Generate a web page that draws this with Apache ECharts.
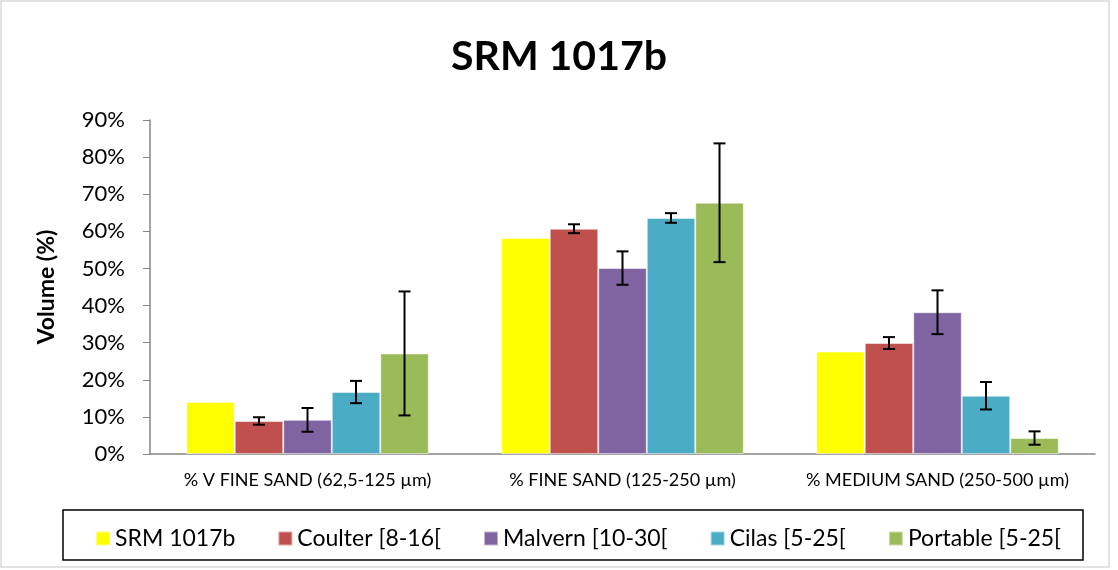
<!DOCTYPE html>
<html>
<head>
<meta charset="utf-8">
<script src="https://cdn.jsdelivr.net/npm/echarts@6/dist/echarts.min.js"></script>
<style>
  html, body { margin: 0; padding: 0; background: #fff; }
  #chart { width: 1118px; height: 570px; }
</style>
</head>
<body>
<div id="chart"></div>
<script>
// data (percent)
const categories = ['% V FINE SAND (62,5-125 µm)', '% FINE SAND (125-250 µm)', '% MEDIUM SAND (250-500 µm)']
const seriesNames = ['SRM 1017b', 'Coulter [8-16[', 'Malvern [10-30[', 'Cilas [5-25[', 'Portable [5-25[']
const srm = [14.0, 58.2, 27.6]
const coulter = [8.9, 60.7, 29.9]
const malvern = [9.2, 50.1, 38.2]
const cilas = [16.7, 63.6, 15.7]
const portable = [27.1, 67.7, 4.3]
const coulterErr = [1.0, 1.2, 1.6]
const malvernErr = [3.2, 4.5, 5.9]
const cilasErr = [3.0, 1.3, 3.7]
const portableErr = [16.7, 16.0, 1.8]
const yTicks = [0, 10, 20, 30, 40, 50, 60, 70, 80, 90]

const colors = ['#FFFF00', '#C0504D', '#8064A2', '#4BACC6', '#9BBB59']
const font = 'Lato, "Open Sans", sans-serif'
const catGap = 0.23

const values = [srm, coulter, malvern, cilas, portable]
const errs = [null, coulterErr, malvernErr, cilasErr, portableErr]

// error bar items: [category, low, high, series index]
const errData = []
errs.forEach((e, s) => {
  if (!e) return
  e.forEach((d, c) => {
    errData.push([c, values[s][c] - d, values[s][c] + d, s])
  })
})

const chart = echarts.init(document.getElementById('chart'))

const barSeries = seriesNames.map((name, i) => ({
  name,
  type: 'bar',
  data: values[i],
  barGap: '0%',
  barCategoryGap: (catGap * 100) + '%',
  itemStyle: { color: colors[i], borderColor: 'rgba(255,255,255,0.5)', borderWidth: 1 }
}))

const option = {
  animation: false,
  title: {
    text: 'SRM 1017b',
    left: 'center',
    top: 31,
    textStyle: { fontFamily: font, fontSize: 41, fontWeight: 'bold', color: '#000' }
  },
  grid: { left: 150, right: 23, top: 120, bottom: 116 },
  legend: {
    data: seriesNames,
    left: 90,
    top: 522,
    icon: 'rect',
    itemWidth: 14,
    itemHeight: 14,
    itemGap: 42,
    textStyle: { fontFamily: font, fontSize: 23, color: '#000' }
  },
  xAxis: {
    type: 'category',
    data: categories,
    axisLine: { lineStyle: { color: '#868686', width: 1.5 } },
    axisTick: { length: 6, lineStyle: { color: '#868686' } },
    axisLabel: { interval: 0, fontFamily: font, fontSize: 18, color: '#000', margin: 17 }
  },
  yAxis: {
    type: 'value',
    min: 0,
    max: 90,
    interval: 10,
    name: 'Volume (%)',
    nameLocation: 'middle',
    nameGap: 92,
    nameTextStyle: { fontFamily: font, fontSize: 23, fontWeight: 'bold', color: '#000' },
    axisLine: { show: true, lineStyle: { color: '#868686', width: 1.5 } },
    axisTick: { show: true, length: 7, lineStyle: { color: '#868686' } },
    axisLabel: {
      fontFamily: font, fontSize: 22, color: '#000', margin: 25,
      formatter: v => (yTicks.includes(v) ? v + '%' : '')
    },
    splitLine: { show: false }
  },
  graphic: [
    {
      type: 'rect',
      shape: { x: 1, y: 1, width: 1108, height: 566 },
      style: { fill: 'none', stroke: '#d9d9d9', lineWidth: 1.5 },
      silent: true
    },
    {
      type: 'rect',
      shape: { x: 63, y: 510, width: 1020, height: 50 },
      style: { fill: 'none', stroke: '#000', lineWidth: 1.5 },
      silent: true
    }
  ],
  series: [
    ...barSeries,
    {
      name: 'error',
      type: 'custom',
      data: errData,
      z: 10,
      encode: { x: 0, y: [1, 2] },
      renderItem: (params, api) => {
        const cat = api.value(0)
        const lo = api.coord([cat, api.value(1)])
        const hi = api.coord([cat, api.value(2)])
        const band = api.size([1, 0])[0]
        const bw = band * (1 - catGap) / 5
        const x = lo[0] + (api.value(3) - 2) * bw
        const cap = 6
        const style = { stroke: '#000', lineWidth: 2 }
        return {
          type: 'group',
          children: [
            { type: 'line', shape: { x1: x, y1: lo[1], x2: x, y2: hi[1] }, style },
            { type: 'line', shape: { x1: x - cap, y1: lo[1], x2: x + cap, y2: lo[1] }, style },
            { type: 'line', shape: { x1: x - cap, y1: hi[1], x2: x + cap, y2: hi[1] }, style }
          ]
        }
      }
    }
  ]
}

chart.setOption(option)
</script>
</body>
</html>
